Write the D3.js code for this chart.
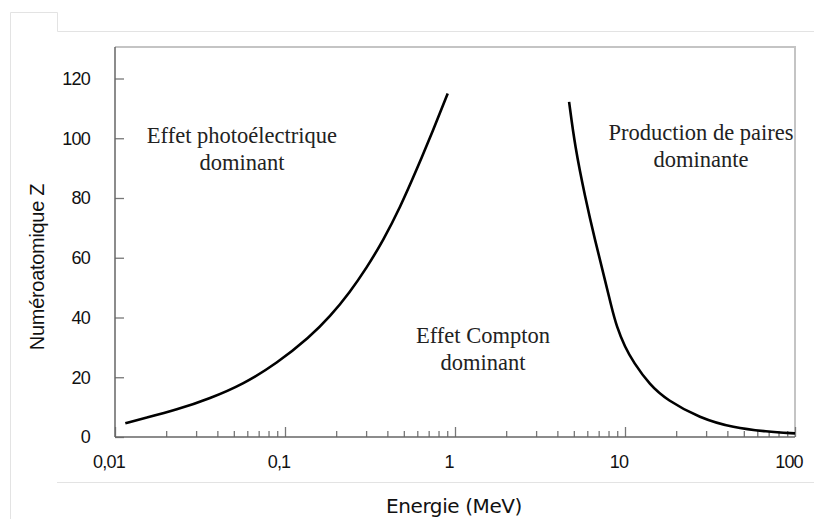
<!DOCTYPE html>
<html>
<head>
<meta charset="utf-8">
<script src="https://cdn.jsdelivr.net/npm/d3@7/dist/d3.min.js"></script>
<style>
  html, body { margin: 0; padding: 0; background: #fff; }
  svg { display: block; }
</style>
</head>
<body>
<svg id="chart" width="814" height="519"></svg>
<script>
// ---- data ----
const xTickValues = [0.01, 0.1, 1, 10, 100];
const xTickLabels = ["0,01", "0,1", "1", "10", "100"];
const yTickValues = [0, 20, 40, 60, 80, 100, 120];
const yTickLabels = ["0", "20", "40", "60", "80", "100", "120"];

// Photoelectric / Compton boundary (energy in MeV, atomic number Z)
const energyPhoto = [0.0115, 0.0147, 0.0231, 0.0362, 0.0569, 0.0893, 0.140, 0.184, 0.241, 0.302, 0.378, 0.475, 0.595, 0.745, 0.906];
const zPhoto      = [4.6, 6.2, 9.1, 12.9, 17.7, 24.6, 33.5, 40.3, 48.5, 56.6, 65.8, 76.8, 89.5, 102.8, 115];

// Compton / pair production boundary
const energyPair = [4.69, 5.08, 5.82, 6.66, 7.63, 8.27, 8.94, 10.0, 11.19, 14.0, 17.6, 27.6, 43.4, 68.1, 100];
const zPair      = [112.2, 97.2, 80.4, 65.9, 52.5, 44.2, 36.8, 30.1, 25.1, 17.4, 12.4, 6.3, 3.1, 1.8, 1.2];

const regionLabels = [
  { lines: ["Effet photoélectrique", "dominant"], e: 0.0558, z: 98.4 },
  { lines: ["Effet Compton", "dominant"], e: 1.46, z: 31.5 },
  { lines: ["Production de paires", "dominante"], e: 28.0, z: 99.4 }
];

const xTitle = "Energie (MeV)";
const yTitle = "Numéroatomique Z";

(function () {
// ---- layout ----
const svg = d3.select("#chart");
const pLeft = 115, pRight = 795, pTop = 47, pBottom = 437;

const x = d3.scaleLog().domain([0.01, 100]).range([pLeft, pRight]);
const y = d3.scaleLinear().domain([0, 120]).range([pBottom, 78.5]);

// background decoration lines
svg.append("path")
  .attr("d", "M10.5,519 V12.5 H57.5 V31.5 H814")
  .attr("fill", "none").attr("stroke", "#e3e3e3").attr("stroke-width", 1);
svg.append("line")
  .attr("x1", 57).attr("x2", 814).attr("y1", 482.5).attr("y2", 482.5)
  .attr("stroke", "#e3e3e3").attr("stroke-width", 1);

// frame (top & right)
svg.append("path")
  .attr("d", `M${pLeft},${pTop} H${pRight} V${pBottom}`)
  .attr("fill", "none").attr("stroke", "#c4c4c4").attr("stroke-width", 2);

// y axis
const yAxis = d3.axisRight(y).tickValues(yTickValues).tickSize(9).tickFormat("");
const gy = svg.append("g").attr("transform", `translate(${pLeft},0)`).call(yAxis);
gy.select(".domain").remove();

svg.append("g").selectAll("text").data(yTickValues).join("text")
  .attr("x", 90).attr("y", d => y(d)).attr("dy", "0.35em")
  .attr("text-anchor", "end")
  .attr("font-family", "Liberation Sans, Arial, sans-serif")
  .attr("font-size", 18).attr("letter-spacing", -0.8).attr("fill", "#111")
  .text((d, i) => yTickLabels[i]);

// x axis: minor + major ticks pointing up
const minorTicks = [];
for (let p = -2; p < 2; p++) {
  for (let m = 2; m <= 9; m++) minorTicks.push(m * Math.pow(10, p));
}
const gx = svg.append("g").attr("transform", `translate(0,${pBottom})`);
gx.call(d3.axisTop(x).tickValues(minorTicks).tickSize(6).tickFormat(""));
gx.select(".domain").remove();
const gxMaj = svg.append("g").attr("transform", `translate(0,${pBottom})`);
gxMaj.call(d3.axisTop(x).tickValues(xTickValues).tickSize(10).tickFormat(""));
gxMaj.select(".domain").remove();
svg.selectAll(".tick line").attr("stroke", "#777").attr("stroke-width", 1.3);

svg.append("line").attr("x1", pLeft).attr("x2", pLeft).attr("y1", pTop).attr("y2", pBottom)
  .attr("stroke", "#666").attr("stroke-width", 1.5);
svg.append("line").attr("x1", pLeft).attr("x2", pRight).attr("y1", pBottom).attr("y2", pBottom)
  .attr("stroke", "#666").attr("stroke-width", 1.5);

svg.append("g").selectAll("text").data(xTickValues).join("text")
  .attr("x", d => x(d)).attr("y", 468).attr("dx", -6)
  .attr("text-anchor", "middle")
  .attr("font-family", "Liberation Sans, Arial, sans-serif")
  .attr("font-size", 18).attr("letter-spacing", -0.8).attr("fill", "#111")
  .text((d, i) => xTickLabels[i]);

// titles
svg.append("text")
  .attr("x", 454).attr("y", 513).attr("text-anchor", "middle")
  .attr("font-family", "DejaVu Sans, sans-serif")
  .attr("font-size", 20).attr("letter-spacing", -0.4).attr("fill", "#111")
  .text(xTitle);
svg.append("text")
  .attr("transform", "translate(44,267) rotate(-90)")
  .attr("text-anchor", "middle")
  .attr("font-family", "Liberation Sans, Arial, sans-serif")
  .attr("font-size", 20).attr("letter-spacing", -0.3).attr("fill", "#111")
  .text(yTitle);

// curves
const line = d3.line()
  .x(d => x(d[0])).y(d => y(d[1]))
  .curve(d3.curveBasis);

svg.append("path")
  .datum(energyPhoto.map((e, i) => [e, zPhoto[i]]))
  .attr("d", line).attr("fill", "none").attr("stroke", "#000").attr("stroke-width", 2.6);
svg.append("path")
  .datum(energyPair.map((e, i) => [e, zPair[i]]))
  .attr("d", line).attr("fill", "none").attr("stroke", "#000").attr("stroke-width", 2.6);

// region labels
regionLabels.forEach(r => {
  const t = svg.append("text")
    .attr("text-anchor", "middle")
    .attr("font-family", "Liberation Serif, Times New Roman, serif")
    .attr("font-size", 22.5).attr("fill", "#222");
  r.lines.forEach((l, i) => {
    t.append("tspan").attr("x", x(r.e)).attr("y", y(r.z) + i * 27).text(l);
  });
});
})();
</script>
</body>
</html>
